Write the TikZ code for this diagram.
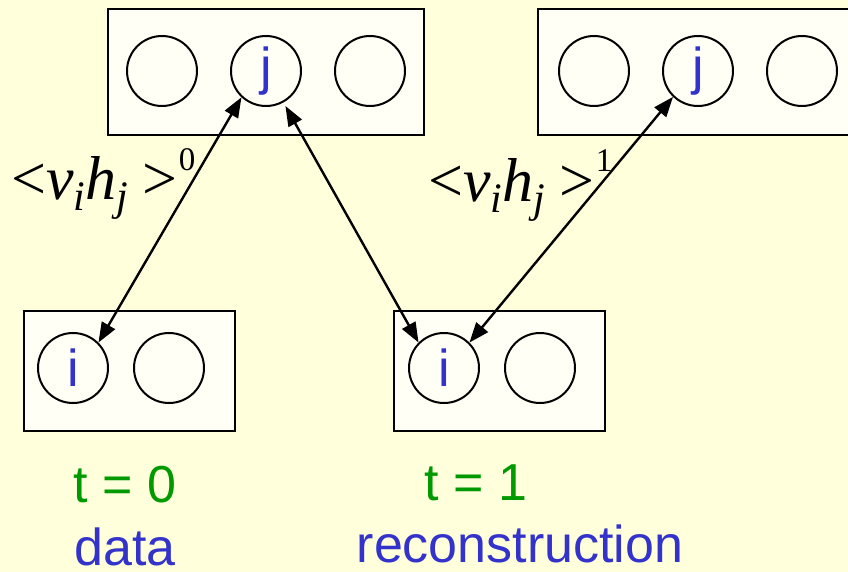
\documentclass[tikz,border=0pt]{standalone}
\usepackage{fontspec}
\setmainfont{Liberation Sans}
\newfontfamily\timesfont{Liberation Serif}
\usetikzlibrary{arrows.meta,positioning}
\definecolor{slidebg}{RGB}{255,255,220}
\definecolor{boxbg}{RGB}{255,255,246}
\definecolor{unitblue}{RGB}{51,51,204}
\definecolor{timegreen}{RGB}{0,153,0}
\tikzstyle{layer} = [draw, line width=2.6pt, fill=boxbg, rectangle, inner sep=0pt]
\tikzstyle{unit} = [draw, line width=2pt, fill=boxbg, circle, minimum size=70pt, inner sep=0pt, text=unitblue, font=\fontsize{52}{60}\selectfont]
\tikzstyle{caption} = [font=\fontsize{52}{60}\selectfont, anchor=base, inner sep=0pt]
\tikzstyle{stat} = [font=\timesfont\fontsize{62}{70}\selectfont, anchor=base west, inner sep=0pt]
\newcommand{\sub}[1]{\raisebox{-11pt}{\fontsize{42}{48}\selectfont\itshape #1}}
\newcommand{\sups}[1]{\raisebox{29pt}{\fontsize{33}{40}\selectfont #1}}

\begin{document}
\begin{tikzpicture}[x=1pt,y=-1pt,>={Triangle[length=20pt,width=15pt]},line width=2.4pt,node distance=104pt]
\useasboundingbox (0,0) rectangle (848,572);
\clip (0,0) rectangle (848,572);
\fill[slidebg] (0,0) rectangle (848,572);

% hidden layers
\node[layer, minimum width=316pt, minimum height=126pt] (h0) at (266,72) {};
\node[layer, minimum width=400pt, minimum height=126pt] (h1) at (738,72) {};
\node[unit] (a0) at (162,71) {};
\node[unit, right of = a0] (j0) {j};
\node[unit, right of = j0] (b0) {};
\node[unit] (a1) at (594,71) {};
\node[unit, right of = a1] (j1) {j};
\node[unit, right of = j1] (b1) {};

% visible layers
\node[layer, minimum width=211pt, minimum height=120pt] (v0) at (129.5,371) {};
\node[layer, minimum width=211pt, minimum height=120pt] (v1) at (499.5,371) {};
\node[unit] (i0) at (73,368) {i};
\node[unit, right of = i0, node distance=96pt] (c0) {};
\node[unit] (i1) at (444,368) {i};
\node[unit, right of = i1, node distance=96pt] (c1) {};

\path[<->]
(i0.45) edge [] node {} (j0.227)
(j0.-61) edge [shorten <=4pt] node {} (i1.135)
(i1.45) edge [] node {} (j1.226);

\node[stat] (s0) at (10,200) {<\textit{v}\sub{i}\textit{h}\sub{j}\hspace{14pt}>\hspace{2pt}\sups{0}};
\node[stat] (s1) at (427,201) {<\textit{v}\sub{i}\textit{h}\sub{j}\hspace{14pt}>\hspace{2pt}\sups{1}};

\node[caption, text=timegreen] (t0) at (125,502) {t = 0};
\node[caption, text=unitblue] (d0) at (125,565) {data};
\node[caption, text=timegreen] (t1) at (476,500) {t = 1};
\node[caption, text=unitblue] (d1) at (520,562) {reconstruction};
\end{tikzpicture}
\end{document}
